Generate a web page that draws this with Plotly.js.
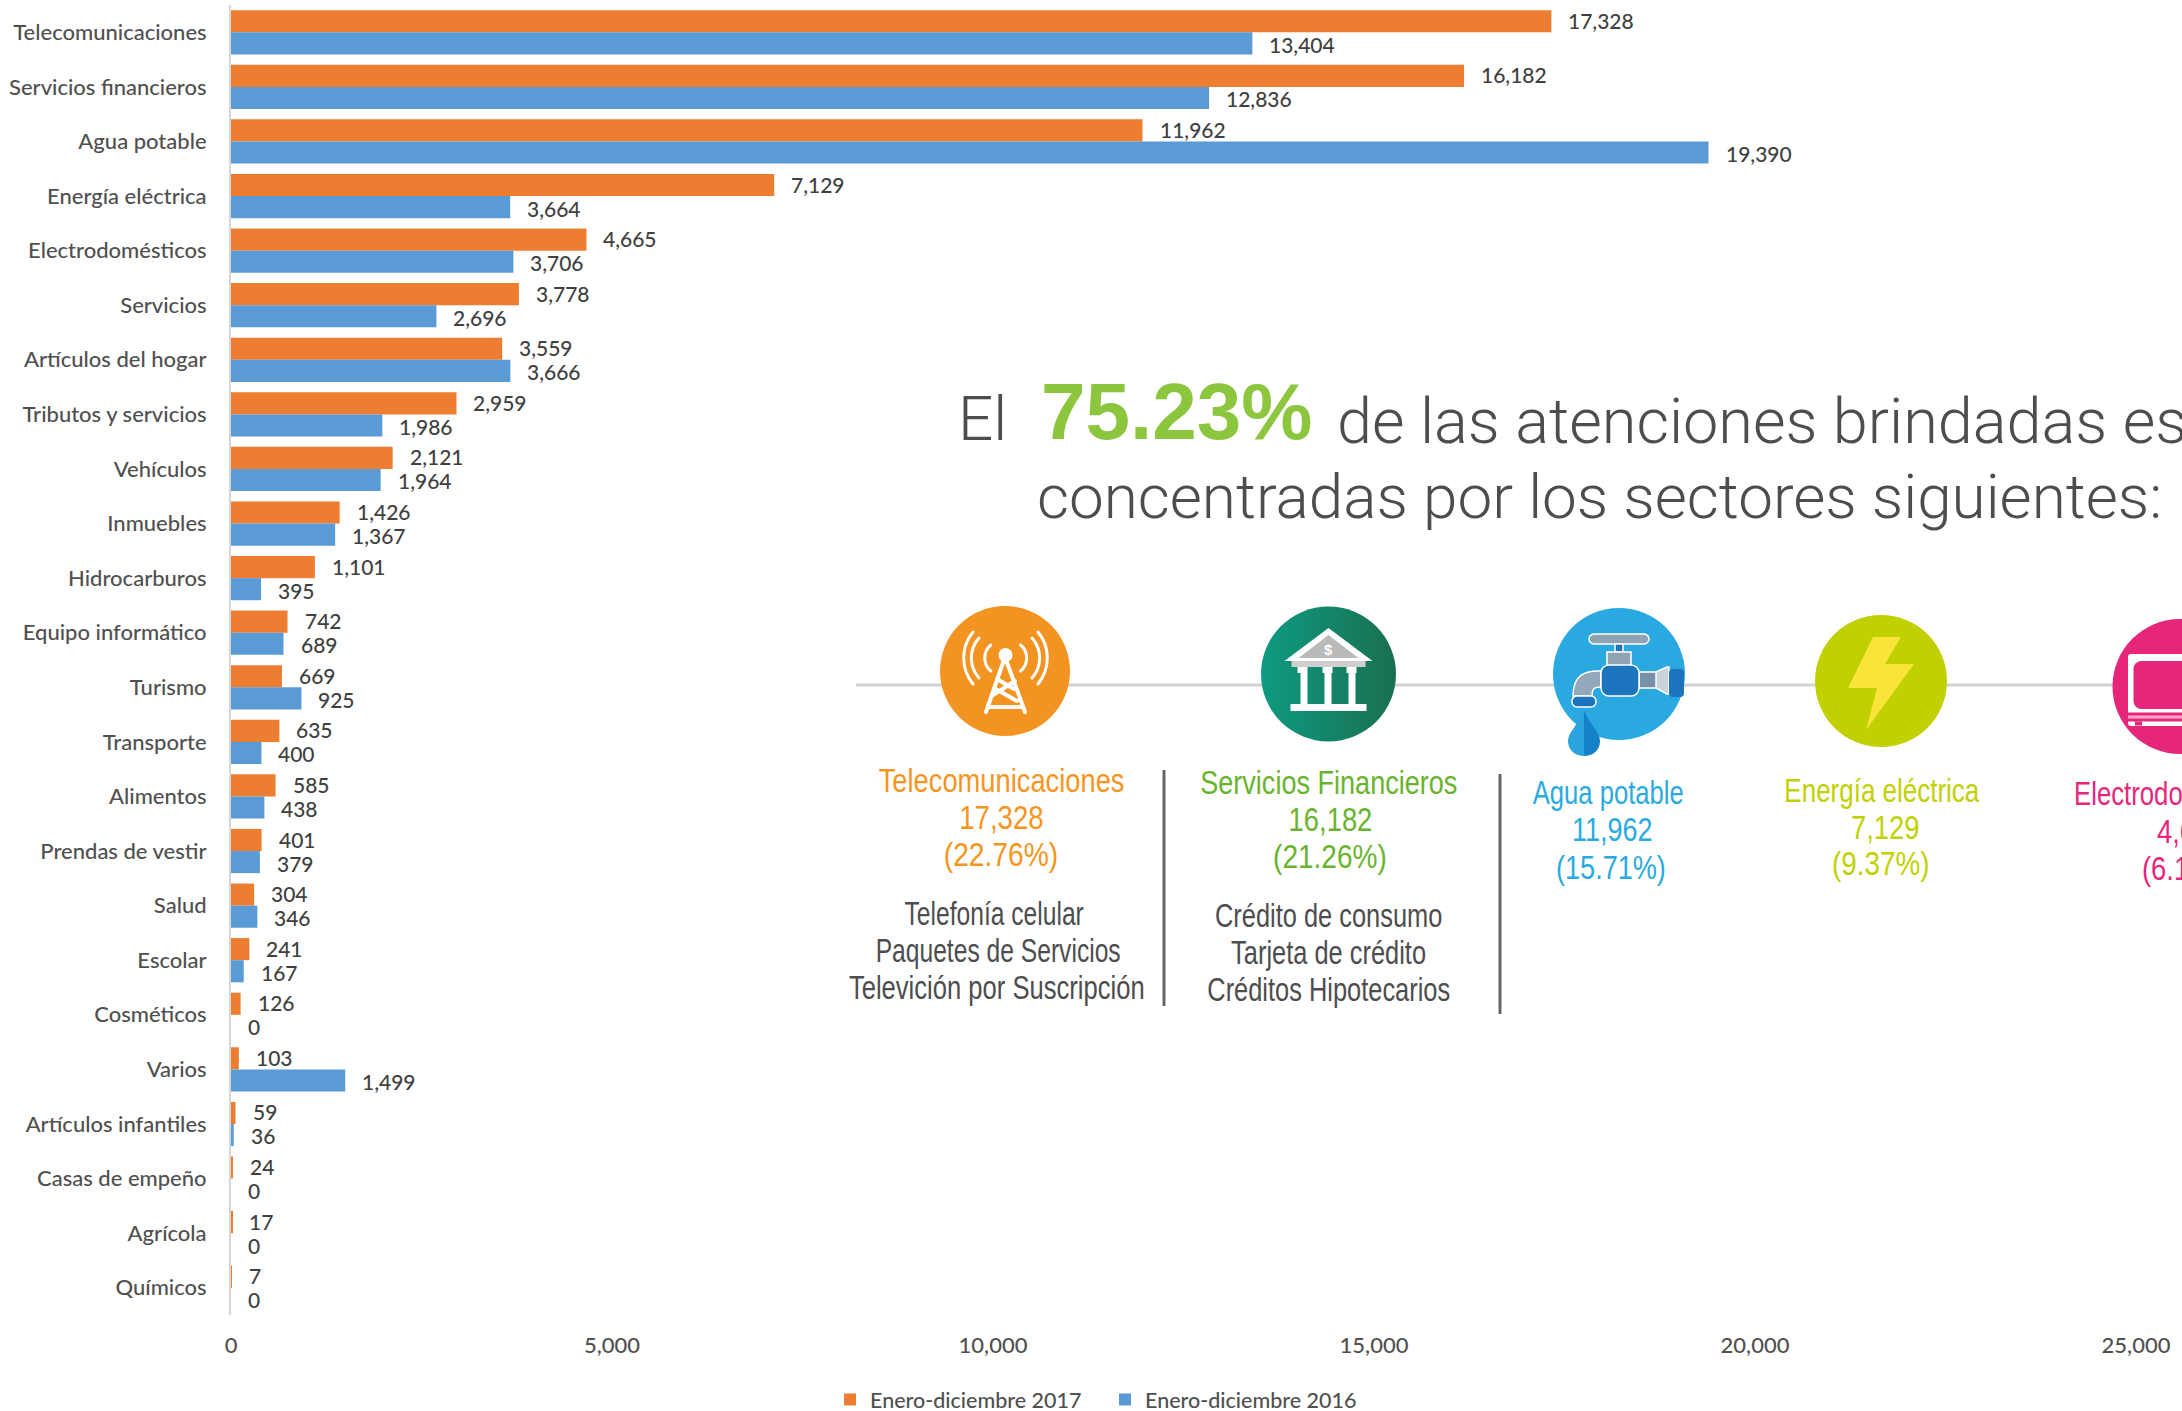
<!DOCTYPE html>
<html>
<head>
<meta charset="utf-8">
<script src="https://cdn.plot.ly/plotly-3.0.1.min.js"></script>
<style>html,body{margin:0;padding:0;background:#fff;overflow:hidden}</style>
</head>
<body>
<div id="chart" style="width:2182px;height:1411px"></div>
<script>
const categories = ["Telecomunicaciones","Servicios financieros","Agua potable","Energía eléctrica","Electrodomésticos","Servicios","Artículos del hogar","Tributos y servicios","Vehículos","Inmuebles","Hidrocarburos","Equipo informático","Turismo","Transporte","Alimentos","Prendas de vestir","Salud","Escolar","Cosméticos","Varios","Artículos infantiles","Casas de empeño","Agrícola","Químicos"];
const values2017 = [17328,16182,11962,7129,4665,3778,3559,2959,2121,1426,1101,742,669,635,585,401,304,241,126,103,59,24,17,7];
const values2016 = [13404,12836,19390,3664,3706,2696,3666,1986,1964,1367,395,689,925,400,438,379,346,167,0,1499,36,0,0,0];
const seriesNames = ["Enero-diciembre 2017","Enero-diciembre 2016"];
const xTicks = [0,5000,10000,15000,20000,25000];

const W = 2182, H = 1411, L = 231, T = 5, PW = 1905, PH = 1310;
const px = x => (x - L) / PW;
const py = y => 1 - (y - T) / PH;
const fmt = v => v.toLocaleString('en-US');

const SANS = '"Liberation Sans", Arial, sans-serif';
const LIGHT = 'Roboto, "Liberation Sans", sans-serif';
const CHART = 'Lato, sans-serif';

const annotations = [];
const squeezes = {};
const valueFont = {family:CHART, size:21, color:'#404040', weight:500};
categories.forEach((c, i) => {
  annotations.push({x: values2017[i], y: c, xref:'x', yref:'y', text: fmt(values2017[i]), showarrow:false, xanchor:'left', xshift:16, yshift:12, font:valueFont, borderpad:0});
  annotations.push({x: values2016[i], y: c, xref:'x', yref:'y', text: fmt(values2016[i]), showarrow:false, xanchor:'left', xshift:16, yshift:-12, font:valueFont, borderpad:0});
});

function note(text, x, baseline, size, color, anchor, family, weight, squeeze) {
  annotations.push({xref:'paper', yref:'paper', x:px(x), y:py(baseline - size*0.35), text:text, showarrow:false,
    xanchor:anchor, align:anchor, yanchor:'middle', borderpad:0, font:{family:family, size:size, color:color, weight:weight||400}});
  if (squeeze) squeezes[annotations.length-1] = squeeze;
}
const slim = (text, x, baseline, color, anchor, squeeze) => note(text, x, baseline, 33, color, anchor||'center', SANS, 400, squeeze);

const GREY = '#4d4d4f';
note('El', 957, 440, 62, GREY, 'left', LIGHT, 300);
note('75.23%', 1040, 440, 80, '#8CC63F', 'left', SANS, 700);
note('de las atenciones brindadas están', 1336, 444, 63, GREY, 'left', LIGHT, 300);
note('concentradas por los sectores siguientes:', 1036, 518, 62, GREY, 'left', LIGHT, 300);

const ORANGE='#F7941E', GREEN='#69B42D', BLUE='#29ABE2', LIME='#C1D100', PINK='#E6267B';
slim('Telecomunicaciones', 1001, 792, ORANGE, 'center', 0.827);
slim('17,328', 1001, 829, ORANGE, 'center', 0.836);
slim('(22.76%)', 1001, 866, ORANGE, 'center', 0.854);
slim('Telefonía celular', 994, 925, GREY, 'center', 0.746);
slim('Paquetes de Servicios', 998, 962, GREY, 'center', 0.746);
slim('Televición por Suscripción', 997, 999, GREY, 'center', 0.775);

slim('Servicios Financieros', 1329, 794, GREEN, 'center', 0.82);
slim('16,182', 1330, 831, GREEN, 'center', 0.83);
slim('(21.26%)', 1330, 868, GREEN, 'center', 0.85);
slim('Crédito de consumo', 1328, 927, GREY, 'center', 0.77);
slim('Tarjeta de crédito', 1328, 964, GREY, 'center', 0.77);
slim('Créditos Hipotecarios', 1328, 1001, GREY, 'center', 0.77);

slim('Agua potable', 1608, 804, BLUE, 'center', 0.777);
slim('11,962', 1612, 841, BLUE, 'center', 0.817);
slim('(15.71%)', 1611, 879, BLUE, 'center', 0.82);

slim('Energía eléctrica', 1882, 802, LIME, 'center', 0.787);
slim('7,129', 1885, 839, LIME, 'center', 0.83);
slim('(9.37%)', 1881, 875, LIME, 'center', 0.843);

slim('Electrodomésticos', 2073, 805, PINK, 'left', 0.78);
slim('4,665', 2156, 843, PINK, 'left', 0.83);
slim('(6.13%)', 2141, 880, PINK, 'left', 0.83);

note('$', 1328, 655, 15, '#ffffff', 'center', SANS, 700);

const shapes = [
  {type:'line', xref:'paper', yref:'paper', x0:px(856), x1:px(2182), y0:py(685), y1:py(685), line:{color:'#d2d2d2', width:3}, layer:'below'},
  {type:'line', xref:'paper', yref:'paper', x0:px(1164), x1:px(1164), y0:py(770), y1:py(1006), line:{color:'#666666', width:3}},
  {type:'line', xref:'paper', yref:'paper', x0:px(1500), x1:px(1500), y0:py(774), y1:py(1014), line:{color:'#666666', width:3}}
];

function svgUri(s, body) {
  const h = -s/2;
  return 'data:image/svg+xml;charset=utf-8,' + encodeURIComponent(
    `<svg xmlns="http://www.w3.org/2000/svg" width="${s}" height="${s}" viewBox="${h} ${h} ${s} ${s}">${body}</svg>`);
}
const towerIcon = `<circle r="65" fill="#F39322"/>
<g stroke="#fff" fill="none" stroke-linecap="round">
<g stroke-width="3"><path d="M-14.2,-26 A17,17 0 0 0 -14.2,0"/><path d="M15.6,-26 A17,17 0 0 1 15.6,0"/>
<path d="M-26,-33 A30,30 0 0 0 -26,7"/><path d="M27,-33 A30,30 0 0 1 27,7"/>
<path d="M-32,-39 A41,41 0 0 0 -32,13"/><path d="M33,-39 A41,41 0 0 1 33,13"/></g>
<path stroke-width="4" d="M-19,41 L0,-14 L20,41 M-17,36 L18,36 M-11,17 L12,30 M-8,8 L9,18 M-12,24 L10,10"/></g>
<circle cx="0.5" cy="-16" r="7" fill="#fff"/>`;
const bankIcon = `<defs><linearGradient id="g" x1="0" x2="1" y1="0" y2="0"><stop offset="0" stop-color="#0D9B82"/><stop offset="1" stop-color="#1A6F50"/></linearGradient></defs>
<circle r="67.5" fill="url(#g)"/>
<path d="M0,-46 L44,-13 L-44,-13 Z" fill="#fff"/><path d="M0,-39 L30,-16 L-30,-16 Z" fill="#b9b9b9"/>
<rect x="-37" y="-13" width="74" height="6" fill="#cfcfcf"/>
<g fill="#fff"><rect x="-31" y="-7" width="10" height="6"/><rect x="-6" y="-7" width="10" height="6"/><rect x="18" y="-7" width="10" height="6"/>
<rect x="-28" y="-1" width="7" height="31"/><rect x="-4" y="-1" width="7" height="31"/><rect x="20" y="-1" width="7" height="31"/>
<rect x="-38" y="30" width="76" height="7"/></g>`;
const tapIcon = `<circle r="66" fill="#29A9E0"/>
<g stroke="#fff" stroke-width="1.5">
<rect x="-30" y="-40" width="60" height="10" rx="5" fill="#8fa3b5"/>
<rect x="-4" y="-30" width="8" height="8" fill="#1C75BC"/>
<rect x="-12" y="-22" width="24" height="14" fill="#8fa3b5"/>
<path d="M-18,-3 C-35,-4 -46,2 -46,22 L-27,22 C-27,14 -24,13 -18,13 Z" fill="#93a8bb"/>
<rect x="-47" y="22" width="24" height="11" rx="5" fill="#1C75BC"/>
<rect x="20" y="-2" width="18" height="16" fill="#7891a8"/>
<path d="M37,-2 L48,-7 L50,-7 L50,20 L48,20 L37,14 Z" fill="#c8d3dc"/>
<rect x="-18" y="-9" width="38" height="31" rx="8" fill="#1C75BC"/></g>
<rect x="50" y="-5" width="15" height="28" rx="4" fill="#1C75BC"/>
<path d="M-35,36 C-30,50 -19,58 -19,67 C-19,77 -27,82 -35,82 Z" fill="#1481C8"/>
<path d="M-35,36 C-40,50 -51,58 -51,67 C-51,77 -43,82 -35,82 Z" fill="#2BA3DE"/>`;
const boltIcon = `<circle r="66" fill="#C1D100"/><path d="M-8,-44 L20,-44 L4,-17 L33,-17 L-15,49 L-4,7 L-33,7 Z" fill="#F9E43A"/>`;
const tvIcon = `<circle r="67.5" fill="#E6267B"/><rect x="-52" y="-32.5" width="104" height="72" rx="3" fill="#fff"/>
<rect x="-46.5" y="-25.5" width="93" height="48" rx="8" fill="#E6267B"/><rect x="-52" y="26" width="104" height="9" fill="#E6267B"/><rect x="-52" y="29" width="104" height="3" fill="#F9A8CB"/>
<rect x="-45" y="35" width="7" height="4" fill="#E6267B"/>`;

const icon = (body, cx, cy, s) => ({source: svgUri(s, body), xref:'paper', yref:'paper', x:px(cx - s/2), y:py(cy - s/2), sizex:s/PW, sizey:s/PH, xanchor:'left', yanchor:'top', sizing:'stretch', layer:'above'});
const images = [
  icon(towerIcon, 1005, 671, 140),
  icon(bankIcon, 1328.5, 674, 140),
  icon(tapIcon, 1619, 674, 180),
  icon(boltIcon, 1881, 681, 140),
  icon(tvIcon, 2180, 686.5, 140)
];

const traces = [
  {type:'bar', orientation:'h', name:seriesNames[0], x:values2017, y:categories, marker:{color:'#ED7D31'}},
  {type:'bar', orientation:'h', name:seriesNames[1], x:values2016, y:categories, marker:{color:'#5B9BD5'}}
];

const layout = {
  width:W, height:H, margin:{l:L, r:W-L-PW, t:T, b:H-T-PH, pad:0, autoexpand:false},
  paper_bgcolor:'#fff', plot_bgcolor:'#fff',
  barmode:'group', bargap:0.19, bargroupgap:0,
  xaxis:{range:[0,25000], tickvals:xTicks, tickformat:',', showgrid:false, zeroline:false, showline:false,
    ticks:'outside', ticklen:11, tickcolor:'rgba(0,0,0,0)', tickfont:{family:CHART, size:22, color:'#505050', weight:500}},
  yaxis:{type:'category', categoryorder:'array', categoryarray:categories, autorange:'reversed', showgrid:false, zeroline:false,
    showline:true, linecolor:'#d6d6d6', linewidth:2, ticks:'outside', ticklen:18, tickcolor:'rgba(0,0,0,0)',
    tickfont:{family:CHART, size:22, color:'#505050', weight:500}},
  legend:{orientation:'h', x:px(830), y:py(1379), xanchor:'left', yanchor:'top', entrywidth:230, entrywidthmode:'pixels',
    font:{family:CHART, size:21.5, color:'#505050', weight:500}, traceorder:'normal', bgcolor:'rgba(0,0,0,0)'},
  annotations, shapes, images, showlegend:true, hovermode:false
};
Plotly.newPlot('chart', traces, layout, {displayModeBar:false, responsive:false}).then(() => {
  Object.keys(squeezes).forEach(k => {
    const t = document.querySelector('.annotation[data-index="' + k + '"] .annotation-text');
    if (!t) return;
    t.setAttribute('lengthAdjust', 'spacingAndGlyphs');
    t.setAttribute('textLength', (t.getComputedTextLength() * squeezes[k]).toFixed(1));
  });
});
</script>
</body>
</html>
